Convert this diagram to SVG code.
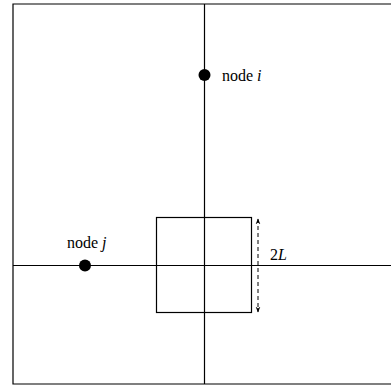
<svg xmlns="http://www.w3.org/2000/svg" width="391" height="387" viewBox="0 0 391 387">
<style>
.ln{stroke:#000;stroke-width:1.2;fill:none}
.t{font-family:"Liberation Serif",serif;font-size:16px;fill:#000}
.it{font-style:italic}
</style>
<defs>
<marker id="ah" viewBox="0 0 10 10" refX="9" refY="5" markerWidth="6" markerHeight="8" orient="auto-start-reverse" markerUnits="userSpaceOnUse">
<path d="M0,1 L10,5 L0,9 L3,5 Z" fill="#000"/>
</marker>
</defs>
<rect width="391" height="387" fill="#fff"/>
<g id="frame">
<polyline class="ln" points="391,4 13,4 13,384 391,384"/>
</g>
<g id="connectors">
<line class="ln" x1="204.5" y1="4" x2="204.5" y2="384"/>
<line class="ln" x1="13" y1="265.5" x2="391" y2="265.5"/>
<line x1="258" y1="219" x2="258" y2="312" stroke="#000" stroke-width="1" stroke-dasharray="4,3" marker-start="url(#ah)" marker-end="url(#ah)"/>
</g>
<g id="box">
<rect class="ln" x="156.5" y="217.5" width="95" height="95"/>
</g>
<g id="node-i">
<circle cx="204.5" cy="75" r="6" fill="#000"/>
<text class="t" x="222" y="81">node <tspan class="it">i</tspan></text>
</g>
<g id="node-j">
<circle cx="85" cy="265.5" r="6" fill="#000"/>
<text class="t" x="67" y="248">node <tspan class="it">j</tspan></text>
</g>
<g id="label-2L">
<text class="t" x="270" y="260" font-size="17">2<tspan class="it">L</tspan></text>
</g>
</svg>
